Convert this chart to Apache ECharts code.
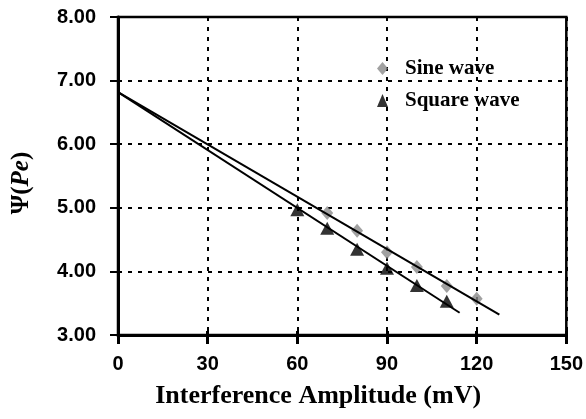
<!DOCTYPE html>
<html>
<head>
<meta charset="utf-8">
<script src="https://cdn.jsdelivr.net/npm/echarts@6/dist/echarts.min.js"></script>
<style>
  html, body { margin: 0; padding: 0; background: #fff; }
  #chart { width: 586px; height: 419px; }
</style>
</head>
<body>
<div id="chart"></div>
<script>
// ---- data ----
const sineAmplitude   = [70, 80, 90, 100, 110, 120];
const sineValues      = [4.92, 4.64, 4.30, 4.07, 3.77, 3.57];
const squareAmplitude = [60, 70, 80, 90, 100, 110];
const squareValues    = [4.97, 4.68, 4.35, 4.05, 3.78, 3.53];
// linear trend lines (start / end)
const sineTrendX   = [0, 127.6];
const sineTrendY   = [6.82, 3.32];
const squareTrendX = [0, 114.3];
const squareTrendY = [6.82, 3.35];
const xTicks = [0, 30, 60, 90, 120, 150];
const yTicks = [3, 4, 5, 6, 7, 8];

const pairs = (xs, ys) => xs.map((x, i) => [x, ys[i]]);

const SANS = '"Liberation Sans", Arial, sans-serif';
const SERIF = '"Liberation Serif", "Times New Roman", serif';

const chart = echarts.init(document.getElementById('chart'), null, { renderer: 'canvas' });
chart.setOption({
  animation: false,
  backgroundColor: '#ffffff',
  grid: {
    left: 118, right: 19, top: 17, bottom: 84,
    show: true, borderColor: '#000', borderWidth: 2.5, backgroundColor: 'transparent'
  },
  legend: {
    orient: 'vertical',
    left: 372, top: 53,
    itemWidth: 11, itemHeight: 13, itemGap: 11,
    data: ['Sine wave', 'Square wave'],
    textStyle: { fontFamily: SERIF, fontWeight: 'bold', fontSize: 21, color: '#000', padding: [0, 0, 0, 12] }
  },
  xAxis: [{
    type: 'value', min: xTicks[0], max: xTicks[xTicks.length - 1], interval: 30,
    name: 'Interference Amplitude (mV)', nameLocation: 'middle', nameGap: 48,
    nameTextStyle: { fontFamily: SERIF, fontWeight: 'bold', fontSize: 26, color: '#000', padding: [0, 48, 0, 0] },
    axisLine: { show: true, onZero: false, lineStyle: { color: '#000', width: 3 } },
    axisTick: { show: true, length: 9, lineStyle: { color: '#000', width: 3 } },
    axisLabel: { margin: 19, fontFamily: SANS, fontWeight: 'bold', fontSize: 20, color: '#000' },
    splitLine: { show: true, lineStyle: { color: '#000', width: 2, type: [4, 6] } }
  }, {
    type: 'value', min: xTicks[0], max: xTicks[xTicks.length - 1], interval: 30, position: 'bottom',
    axisLine: { show: false }, axisLabel: { show: false }, splitLine: { show: false },
    axisTick: { show: true, inside: true, length: 4, lineStyle: { color: '#000', width: 3 } }
  }],
  yAxis: [{
    type: 'value', min: yTicks[0], max: yTicks[yTicks.length - 1], interval: 1,
    name: '{a|Ψ(}{b|Pe}{a|)}', nameLocation: 'middle', nameGap: 84, nameRotate: 90,
    nameTextStyle: {
      padding: [0, 14, 0, 0],
      rich: {
        a: { fontFamily: SERIF, fontWeight: 'bold', fontSize: 25, color: '#000' },
        b: { fontFamily: SERIF, fontWeight: 'bold', fontStyle: 'italic', fontSize: 25, color: '#000' }
      }
    },
    axisLine: { show: true, onZero: false, lineStyle: { color: '#000', width: 3 } },
    axisTick: { show: true, length: 8, lineStyle: { color: '#000', width: 2 } },
    axisLabel: { margin: 22, fontFamily: SANS, fontWeight: 'bold', fontSize: 20, color: '#000',
                 formatter: v => v.toFixed(2) },
    splitLine: { show: true, lineStyle: { color: '#000', width: 2, type: [4, 6] } }
  }, {
    type: 'value', min: yTicks[0], max: yTicks[yTicks.length - 1], interval: 1, position: 'left',
    axisLine: { show: false }, axisLabel: { show: false }, splitLine: { show: false },
    axisTick: { show: true, inside: true, length: 4, lineStyle: { color: '#000', width: 2 } }
  }],
  series: [
    {
      name: 'Sine wave', type: 'scatter', symbol: 'diamond', symbolSize: [12, 14],
      itemStyle: { color: '#8a8a8a' }, z: 2,
      data: pairs(sineAmplitude, sineValues)
    },
    {
      name: 'Square wave', type: 'scatter', symbol: 'triangle', symbolSize: [14, 13],
      itemStyle: { color: '#000' }, z: 2,
      data: pairs(squareAmplitude, squareValues)
    },
    {
      name: 'Sine trend', type: 'line', showSymbol: false, symbol: 'none', z: 3,
      lineStyle: { color: '#000', width: 2 }, data: pairs(sineTrendX, sineTrendY)
    },
    {
      name: 'Square trend', type: 'line', showSymbol: false, symbol: 'none', z: 3,
      lineStyle: { color: '#000', width: 2 }, data: pairs(squareTrendX, squareTrendY)
    }
  ]
});
</script>
</body>
</html>
